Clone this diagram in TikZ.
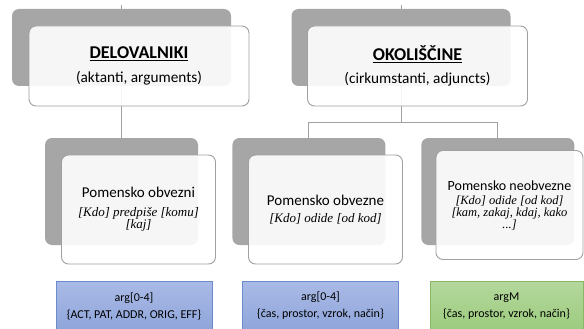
\documentclass[tikz,border=0pt]{standalone}
\usepackage{fontspec}
\setmainfont{Carlito}
\newfontfamily\exfont{Liberation Serif}
\usetikzlibrary{arrows,positioning,shadings}

\definecolor{backgray}{HTML}{A6A6A6}
\definecolor{linegray}{HTML}{A0A0A0}
\definecolor{bluetop}{HTML}{AABAE6}
\definecolor{bluebot}{HTML}{8EA5DA}
\definecolor{blueedge}{HTML}{6B8DCC}
\definecolor{greentop}{HTML}{B4D89C}
\definecolor{greenbot}{HTML}{9CCB7E}
\definecolor{greenedge}{HTML}{86B866}

\newcommand{\ex}[1]{{\exfont\itshape #1}}

\begin{document}
\begin{tikzpicture}[x=1pt,y=-1pt,
	back/.style={rectangle,rounded corners=7pt,fill=backgray,minimum width=219pt,minimum height=77pt},
	front/.style={rectangle,rounded corners=7pt,draw=linegray,line width=0.9pt,fill=white,fill opacity=0.9,text opacity=1,minimum width=220pt,minimum height=80pt,align=center},
	backsmall/.style={back,minimum width=153pt,minimum height=107pt},
	frontsmall/.style={front,minimum width=154pt,minimum height=109pt},
	argbox/.style={rectangle,draw=blueedge,line width=0.8pt,top color=bluetop,bottom color=bluebot,minimum width=156pt,minimum height=50pt,align=center,font=\fontsize{12}{17}\selectfont},
	link/.style={draw=linegray,line width=0.9pt}]
	\useasboundingbox (0,0) rectangle (584,329);

	% grey blocks behind
	\node [back]		(backA)		at (121.5,47.5)	{};
	\node [back]		(backB)		at (401,47.5)	{};
	\node [backsmall]	(midL)		at (121.5,191.5)	{};
	\node [backsmall]	(midM)	[right=34pt of midL]	{};
	\node [backsmall]	(midR)	[right=35.5pt of midM]	{};

	% connectors
	\path [link] (backA.north) -- ++(0,-4);
	\path [link] (backB.north) -- ++(0,-4);
	\path [link] (backA.south) -- (midL.north);
	\path [link] (backB.south) -- ++(0,36) coordinate (split);
	\path [link] (split) -| (midM.north);
	\path [link] (split) -| (midR.north);

	% front blocks
	\node [front]	(delo)	at (139,66)	{\fontsize{18}{20}\selectfont\underline{\textbf{DELOVALNIKI}}\\[9pt]\fontsize{15.3}{17}\selectfont(aktanti, arguments)};
	\node [front]	(okol)	at (417.5,66)	{\fontsize{18}{20}\selectfont\underline{\textbf{OKOLIŠČINE}}\\[9pt]\fontsize{15.3}{17}\selectfont(cirkumstanti, adjuncts)};
	\node [frontsmall]	(obvL)	at (138.5,209.5)	{\fontsize{15}{18}\selectfont Pomensko obvezni\\[7pt]\fontsize{13}{13}\selectfont\ex{[Kdo] predpiše [komu]}\\\fontsize{13}{13}\selectfont\ex{[kaj]}};
	\node [frontsmall]	(obvM)	at (325.5,209.5)	{\fontsize{15}{18}\selectfont Pomensko obvezne\\[5pt]\fontsize{13}{13}\selectfont\ex{[Kdo] odide [od kod]}};
	\node [frontsmall,minimum width=147pt]	(neobv)	at (509.5,205)	{\fontsize{14}{16}\selectfont Pomensko neobvezne\\[2pt]\fontsize{12.5}{11}\selectfont\ex{[Kdo] odide [od kod]}\\\fontsize{12.5}{11}\selectfont\ex{[kam, zakaj, kdaj, kako}\\\fontsize{12.5}{11}\selectfont\ex{...]}};

	% argument boxes
	\node [argbox]	(argA)	at (134,306)	{arg[0-4]\\\{ACT, PAT, ADDR, ORIG, EFF\}};
	\node [argbox]	(argB)	at (320.5,306)	{arg[0-4]\\\{čas, prostor, vzrok, način\}};
	\node [argbox,draw=greenedge,top color=greentop,bottom color=greenbot,minimum width=153pt]	(argC)	at (506.5,306)	{argM\\\{čas, prostor, vzrok, način\}};
\end{tikzpicture}
\end{document}
